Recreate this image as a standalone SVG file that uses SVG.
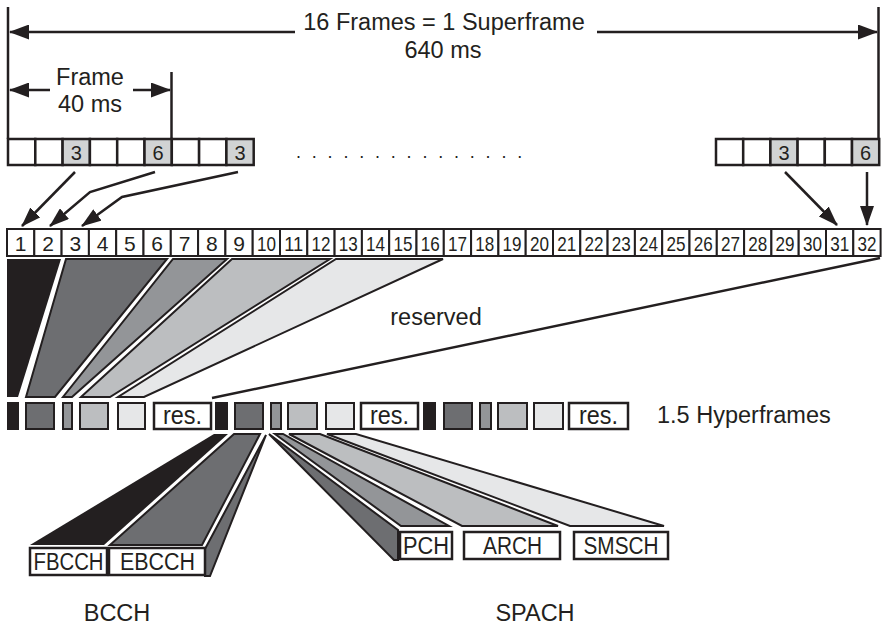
<svg xmlns="http://www.w3.org/2000/svg" width="882" height="628" viewBox="0 0 882 628">
<defs>
<style>
.t{font-family:"Liberation Sans",Arial,sans-serif;fill:#231f20}
.big{font-size:23.5px}
.num{font-size:21px;text-anchor:middle}
.fnum{font-size:20px;text-anchor:middle}
.lab{font-size:23px;text-anchor:middle}
.res{font-size:25px;text-anchor:middle}
.box{fill:#fff;stroke:#231f20;stroke-width:2.5}
.gbox{fill:#d1d3d4;stroke:#231f20;stroke-width:2.5}
.slot{fill:#fff;stroke:#231f20;stroke-width:2}
.ln{fill:none;stroke:#231f20;stroke-width:2.5}
.arr{fill:none;stroke:#231f20;stroke-width:2.5;marker-end:url(#ah)}
.fan{stroke:#231f20;stroke-width:2;stroke-linejoin:miter}
.k{fill:#231f20}
.d{fill:#6d6e71}
.m{fill:#939598}
.l{fill:#bcbec0}
.v{fill:#e6e7e8}
.blk{stroke:#231f20;stroke-width:2}
</style>
<marker id="ah" markerUnits="userSpaceOnUse" markerWidth="20" markerHeight="14" refX="19" refY="7" orient="auto">
<path d="M0,0 L20,7 L0,14 z" fill="#231f20"/>
</marker>
<marker id="ahb" markerUnits="userSpaceOnUse" markerWidth="20" markerHeight="15" refX="19" refY="7.5" orient="auto">
<path d="M0,0 L20,7.5 L0,15 z" fill="#231f20"/>
</marker>
</defs>
<rect width="882" height="628" fill="#fff"/>

<g id="superframe">
<line class="ln" x1="8" y1="7" x2="8" y2="139"/>
<line class="ln" x1="878.5" y1="7" x2="878.5" y2="139"/>
<line class="ln" x1="295" y1="32" x2="10" y2="32" style="marker-end:url(#ahb)"/>
<line class="ln" x1="597" y1="32" x2="877" y2="32" style="marker-end:url(#ahb)"/>
<text class="t big" x="444" y="30" text-anchor="middle">16 Frames = 1 Superframe</text>
<text class="t big" x="443" y="58" text-anchor="middle">640 ms</text>
</g>

<g id="frame">
<line class="ln" x1="171.5" y1="72" x2="171.5" y2="139"/>
<line class="ln" x1="50" y1="90" x2="10" y2="90" style="marker-end:url(#ahb)"/>
<line class="ln" x1="133" y1="90" x2="170" y2="90" style="marker-end:url(#ahb)"/>
<text class="t big" x="90" y="85" text-anchor="middle">Frame</text>
<text class="t big" x="90" y="112" text-anchor="middle">40 ms</text>
</g>

<g id="frames-left">
<rect class="box" x="8" y="139" width="27.3" height="26"/>
<rect class="box" x="35.3" y="139" width="27.3" height="26"/>
<rect class="gbox" x="62.6" y="139" width="27.3" height="26"/>
<rect class="box" x="89.9" y="139" width="27.3" height="26"/>
<rect class="box" x="117.2" y="139" width="27.3" height="26"/>
<rect class="gbox" x="144.5" y="139" width="27.3" height="26"/>
<rect class="box" x="171.8" y="139" width="27.3" height="26"/>
<rect class="box" x="199.1" y="139" width="27.3" height="26"/>
<rect class="gbox" x="226.4" y="139" width="27.3" height="26"/>
<text class="t fnum" x="76.2" y="160">3</text>
<text class="t fnum" x="158.1" y="160">6</text>
<text class="t fnum" x="240" y="160">3</text>
</g>

<g id="dots">
<text class="t" style="font-size:18px" x="296 311.8 327.6 343.4 359.2 375 390.8 406.6 422.4 438.2 454 469.8 485.6 501.4 517.2" y="158">...............</text>
</g>

<g id="frames-right">
<rect class="box" x="716" y="139" width="27.2" height="26"/>
<rect class="box" x="743.2" y="139" width="27.2" height="26"/>
<rect class="gbox" x="770.4" y="139" width="27.2" height="26"/>
<rect class="box" x="797.6" y="139" width="27.2" height="26"/>
<rect class="box" x="824.8" y="139" width="27.2" height="26"/>
<rect class="gbox" x="852" y="139" width="27.2" height="26"/>
<text class="t fnum" x="784" y="160">3</text>
<text class="t fnum" x="865.6" y="160">6</text>
</g>

<g id="connectors">
<path class="arr" d="M75,172 L22,226"/>
<path class="arr" d="M155,172 L90,192 L50,226"/>
<path class="arr" d="M238,172 L122,197 L82,226"/>
<path class="arr" d="M785,172 L837,225"/>
<path class="arr" d="M867,172 L867,225"/>
</g>

<g id="slots">
<rect class="slot" x="7" y="229" width="27.3" height="27"/>
<rect class="slot" x="34.3" y="229" width="27.3" height="27"/>
<rect class="slot" x="61.6" y="229" width="27.3" height="27"/>
<rect class="slot" x="88.9" y="229" width="27.3" height="27"/>
<rect class="slot" x="116.2" y="229" width="27.3" height="27"/>
<rect class="slot" x="143.5" y="229" width="27.3" height="27"/>
<rect class="slot" x="170.8" y="229" width="27.3" height="27"/>
<rect class="slot" x="198.1" y="229" width="27.3" height="27"/>
<rect class="slot" x="225.4" y="229" width="27.3" height="27"/>
<rect class="slot" x="252.7" y="229" width="27.3" height="27"/>
<rect class="slot" x="280" y="229" width="27.3" height="27"/>
<rect class="slot" x="307.3" y="229" width="27.3" height="27"/>
<rect class="slot" x="334.6" y="229" width="27.3" height="27"/>
<rect class="slot" x="361.9" y="229" width="27.3" height="27"/>
<rect class="slot" x="389.2" y="229" width="27.3" height="27"/>
<rect class="slot" x="416.5" y="229" width="27.3" height="27"/>
<rect class="slot" x="443.8" y="229" width="27.3" height="27"/>
<rect class="slot" x="471.1" y="229" width="27.3" height="27"/>
<rect class="slot" x="498.4" y="229" width="27.3" height="27"/>
<rect class="slot" x="525.7" y="229" width="27.3" height="27"/>
<rect class="slot" x="553" y="229" width="27.3" height="27"/>
<rect class="slot" x="580.3" y="229" width="27.3" height="27"/>
<rect class="slot" x="607.6" y="229" width="27.3" height="27"/>
<rect class="slot" x="634.9" y="229" width="27.3" height="27"/>
<rect class="slot" x="662.2" y="229" width="27.3" height="27"/>
<rect class="slot" x="689.5" y="229" width="27.3" height="27"/>
<rect class="slot" x="716.8" y="229" width="27.3" height="27"/>
<rect class="slot" x="744.1" y="229" width="27.3" height="27"/>
<rect class="slot" x="771.4" y="229" width="27.3" height="27"/>
<rect class="slot" x="798.7" y="229" width="27.3" height="27"/>
<rect class="slot" x="826" y="229" width="27.3" height="27"/>
<rect class="slot" x="853.3" y="229" width="27.3" height="27"/>
<g class="t num">
<text x="20.7" y="250.5">1</text><text x="48" y="250.5">2</text><text x="75.3" y="250.5">3</text><text x="102.6" y="250.5">4</text>
<text x="129.9" y="250.5">5</text><text x="157.2" y="250.5">6</text><text x="184.5" y="250.5">7</text><text x="211.8" y="250.5">8</text>
<text x="239.1" y="250.5">9</text>
</g>
<g class="t num" lengthAdjust="spacingAndGlyphs">
<text x="266.4" y="250.5" textLength="19" lengthAdjust="spacingAndGlyphs">10</text>
<text x="293.7" y="250.5" textLength="19" lengthAdjust="spacingAndGlyphs">11</text>
<text x="321" y="250.5" textLength="19" lengthAdjust="spacingAndGlyphs">12</text>
<text x="348.3" y="250.5" textLength="19" lengthAdjust="spacingAndGlyphs">13</text>
<text x="375.6" y="250.5" textLength="19" lengthAdjust="spacingAndGlyphs">14</text>
<text x="402.9" y="250.5" textLength="19" lengthAdjust="spacingAndGlyphs">15</text>
<text x="430.2" y="250.5" textLength="19" lengthAdjust="spacingAndGlyphs">16</text>
<text x="457.5" y="250.5" textLength="19" lengthAdjust="spacingAndGlyphs">17</text>
<text x="484.8" y="250.5" textLength="19" lengthAdjust="spacingAndGlyphs">18</text>
<text x="512.1" y="250.5" textLength="19" lengthAdjust="spacingAndGlyphs">19</text>
<text x="539.4" y="250.5" textLength="19" lengthAdjust="spacingAndGlyphs">20</text>
<text x="566.7" y="250.5" textLength="19" lengthAdjust="spacingAndGlyphs">21</text>
<text x="594" y="250.5" textLength="19" lengthAdjust="spacingAndGlyphs">22</text>
<text x="621.3" y="250.5" textLength="19" lengthAdjust="spacingAndGlyphs">23</text>
<text x="648.6" y="250.5" textLength="19" lengthAdjust="spacingAndGlyphs">24</text>
<text x="675.9" y="250.5" textLength="19" lengthAdjust="spacingAndGlyphs">25</text>
<text x="703.2" y="250.5" textLength="19" lengthAdjust="spacingAndGlyphs">26</text>
<text x="730.5" y="250.5" textLength="19" lengthAdjust="spacingAndGlyphs">27</text>
<text x="757.8" y="250.5" textLength="19" lengthAdjust="spacingAndGlyphs">28</text>
<text x="785.1" y="250.5" textLength="19" lengthAdjust="spacingAndGlyphs">29</text>
<text x="812.4" y="250.5" textLength="19" lengthAdjust="spacingAndGlyphs">30</text>
<text x="839.7" y="250.5" textLength="19" lengthAdjust="spacingAndGlyphs">31</text>
<text x="867" y="250.5" textLength="19" lengthAdjust="spacingAndGlyphs">32</text>
</g>
</g>

<g id="fans-top">
<polygon class="k" points="7,259 61,259 18,397 7,397"/>
<polygon class="fan d" points="66,259 167,259 55,397 26,397"/>
<polygon class="fan m" points="173,259 227,259 72,397 63,397"/>
<polygon class="fan l" points="232,259 330,259 110,397 81,397"/>
<polygon class="fan v" points="336,259 443,259 144,397 118,397"/>
<polyline class="ln" points="880,258 212,398"/>
<text class="t big" x="436" y="325" text-anchor="middle">reserved</text>
</g>

<g id="hyperframes">
<g id="hf1">
<rect class="k" x="7" y="402" width="12" height="28"/>
<rect class="blk d" x="26" y="403" width="28" height="26"/>
<rect class="blk m" x="63" y="403" width="9" height="26"/>
<rect class="blk l" x="80" y="403" width="28" height="26"/>
<rect class="blk v" x="118" y="403" width="27" height="26"/>
<rect class="box" x="154" y="403" width="57" height="26"/>
<text class="t res" x="182.5" y="424" textLength="39" lengthAdjust="spacingAndGlyphs">res.</text>
</g>
<g id="hf2">
<rect class="k" x="215" y="402" width="13" height="28"/>
<rect class="blk d" x="235" y="403" width="28" height="26"/>
<rect class="blk m" x="271" y="403" width="10" height="26"/>
<rect class="blk l" x="288" y="403" width="29" height="26"/>
<rect class="blk v" x="326" y="403" width="28" height="26"/>
<rect class="box" x="361" y="403" width="57" height="26"/>
<text class="t res" x="389.5" y="424" textLength="39" lengthAdjust="spacingAndGlyphs">res.</text>
</g>
<g id="hf3">
<rect class="k" x="423" y="402" width="13" height="28"/>
<rect class="blk d" x="444" y="403" width="28" height="26"/>
<rect class="blk m" x="480" y="403" width="11" height="26"/>
<rect class="blk l" x="498" y="403" width="29" height="26"/>
<rect class="blk v" x="534" y="403" width="29" height="26"/>
<rect class="box" x="569" y="403" width="59" height="26"/>
<text class="t res" x="598.5" y="424" textLength="39" lengthAdjust="spacingAndGlyphs">res.</text>
</g>
<text class="t big" x="657" y="423">1.5 Hyperframes</text>
</g>

<g id="bcch">
<polygon class="k" points="214,434 228,434 104,545 30,545"/>
<polygon class="fan d" points="266,435 210,576 205,576 205,549"/>
<polygon class="fan d" points="234,434 260,434 202,545 110,545"/>
<rect class="box" x="30" y="548" width="77" height="27"/>
<rect class="box" x="109" y="548" width="96" height="27"/>
<text class="t lab" x="68.5" y="570" textLength="70" lengthAdjust="spacingAndGlyphs">FBCCH</text>
<text class="t lab" x="157.5" y="570" textLength="75" lengthAdjust="spacingAndGlyphs">EBCCH</text>
<text class="t big" x="117" y="621" text-anchor="middle">BCCH</text>
</g>

<g id="spach">
<polygon class="fan d" points="269,434 394,560 398,560 398,530"/>
<polygon class="fan m" points="275,434 283,434 449,526 401,526"/>
<polygon class="fan l" points="289,434 320,434 558,526 462,526"/>
<polygon class="fan v" points="327,434 356,434 664,526 570,526"/>
<rect class="box" x="400" y="532" width="52" height="27"/>
<rect class="box" x="464" y="532" width="96" height="27"/>
<rect class="box" x="574" y="532" width="94" height="27"/>
<text class="t lab" x="426" y="554" textLength="46" lengthAdjust="spacingAndGlyphs">PCH</text>
<text class="t lab" x="512.5" y="554" textLength="59" lengthAdjust="spacingAndGlyphs">ARCH</text>
<text class="t lab" x="621" y="554" textLength="75" lengthAdjust="spacingAndGlyphs">SMSCH</text>
<text class="t big" x="535" y="621" text-anchor="middle">SPACH</text>
</g>
</svg>
